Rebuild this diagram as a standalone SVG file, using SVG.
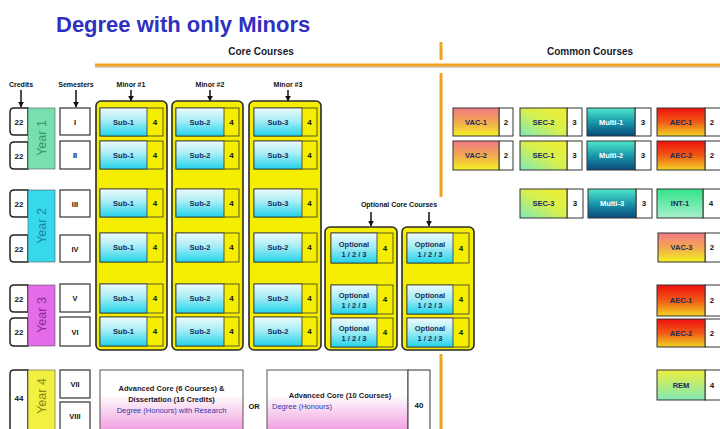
<svg xmlns="http://www.w3.org/2000/svg" width="720" height="429" viewBox="0 0 720 429">
<defs>
<linearGradient id="gSub" x1="0" y1="0" x2="0" y2="1"><stop offset="0" stop-color="#eefbfc"/><stop offset="0.45" stop-color="#a8edf5"/><stop offset="1" stop-color="#22d3ea"/></linearGradient>
<linearGradient id="gVac" x1="0" y1="0" x2="0" y2="1"><stop offset="0" stop-color="#f07a86"/><stop offset="0.5" stop-color="#f4a850"/><stop offset="1" stop-color="#f2f222"/></linearGradient>
<linearGradient id="gSec" x1="1" y1="0" x2="0" y2="1"><stop offset="0" stop-color="#f2f030"/><stop offset="0.5" stop-color="#d4f050"/><stop offset="1" stop-color="#7de8bc"/></linearGradient>
<linearGradient id="gMul" x1="0" y1="0" x2="0" y2="1"><stop offset="0" stop-color="#4ee8c8"/><stop offset="0.5" stop-color="#1a98ac"/><stop offset="1" stop-color="#0a4a7c"/></linearGradient>
<linearGradient id="gAec" x1="0" y1="0" x2="0" y2="1"><stop offset="0" stop-color="#f01010"/><stop offset="0.5" stop-color="#f05a14"/><stop offset="1" stop-color="#f2d424"/></linearGradient>
<linearGradient id="gInt" x1="0" y1="0" x2="0" y2="1"><stop offset="0" stop-color="#30e488"/><stop offset="1" stop-color="#a8f0cc"/></linearGradient>
<linearGradient id="gRem" x1="0" y1="0" x2="0" y2="1"><stop offset="0" stop-color="#eef040"/><stop offset="1" stop-color="#80e8b4"/></linearGradient>
<linearGradient id="gAdv" x1="0" y1="0" x2="0" y2="1"><stop offset="0" stop-color="#ffffff"/><stop offset="0.4" stop-color="#ffffff"/><stop offset="1" stop-color="#f09ade"/></linearGradient>
<marker id="ah" viewBox="0 0 10 10" refX="9" refY="5" markerWidth="4" markerHeight="4" orient="auto"><path d="M0,0 L10,5 L0,10 Z" fill="#111"/></marker>
</defs>
<style>
text{font-family:"Liberation Sans",Arial,sans-serif;}
.hd{font-size:10px;font-weight:bold;fill:#1a1a2e;text-anchor:middle;}
.lb{font-size:7px;font-weight:bold;fill:#111;text-anchor:middle;}
.cell{font-size:7.5px;font-weight:bold;fill:#1a2a5a;text-anchor:middle;dominant-baseline:central;}
.wcell{font-size:7.5px;font-weight:bold;fill:#ffffff;text-anchor:middle;dominant-baseline:central;}
.num{font-size:8px;font-weight:bold;fill:#111;text-anchor:middle;dominant-baseline:central;}
.sem{font-size:7.5px;font-weight:bold;fill:#111;text-anchor:middle;dominant-baseline:central;}
.yr{font-size:12.5px;text-anchor:middle;dominant-baseline:central;}
.outer{fill:#f6ee00;stroke:#2a2a2a;stroke-width:1.6;}
.sub{fill:url(#gSub);stroke:#333;stroke-width:0.8;}
.cy{fill:#f6ee00;stroke:#333;stroke-width:0.8;}
.cw{fill:#ffffff;stroke:#333;stroke-width:1;}
.box{fill:#ffffff;stroke:#333;stroke-width:1.2;}
.cr{fill:#ffffff;stroke:#222;stroke-width:1.5;}
.arr{stroke:#111;stroke-width:1.5;fill:none;marker-end:url(#ah);}
.or{stroke:#f4a21e;stroke-width:3;fill:none;}
.adv{font-size:7.5px;font-weight:bold;fill:#1a1a2e;text-anchor:middle;}
.blu{font-size:7.5px;fill:#2a3aa8;}
</style>
<rect width="720" height="429" fill="#ffffff"/>
<text x="56" y="32" font-size="22" font-weight="bold" fill="#3030c0">Degree with only Minors</text>
<g id="dividers">
<line x1="95" y1="67" x2="720" y2="67" stroke="#9aa4b4" stroke-width="1"/>
<line class="or" x1="95" y1="65" x2="720" y2="65"/>
<line class="or" x1="441" y1="42" x2="441" y2="60"/>
<line class="or" x1="441" y1="73" x2="441" y2="197"/>
<line class="or" x1="441" y1="354" x2="441" y2="429"/>
</g>
<text class="hd" x="261" y="55">Core Courses</text>
<text class="hd" x="590" y="55">Common Courses</text>
<g id="labels">
<text class="lb" x="21" y="87">Credits</text>
<text class="lb" x="76" y="87">Semesters</text>
<text class="lb" x="131" y="87">Minor #1</text>
<text class="lb" x="210" y="87">Minor #2</text>
<text class="lb" x="288" y="87">Minor #3</text>
<text class="lb" x="399" y="207">Optional Core Courses</text>
</g>
<g id="connectors">
<line class="arr" x1="21" y1="90" x2="21" y2="107"/>
<line class="arr" x1="76" y1="90" x2="76" y2="107"/>
<line class="arr" x1="131" y1="90" x2="131" y2="101"/>
<line class="arr" x1="210" y1="90" x2="210" y2="101"/>
<line class="arr" x1="288" y1="90" x2="288" y2="101"/>
<line class="arr" x1="371" y1="212" x2="371" y2="226"/>
<line class="arr" x1="429" y1="212" x2="429" y2="226"/>
</g>
<g id="credits">
<path class="cr" d="M28,108 H14 Q10,108 10,112 V131 Q10,135 14,135 H28 Z"/><text class="num" x="19" y="122">22</text>
<path class="cr" d="M28,142 H14 Q10,142 10,146 V165 Q10,169 14,169 H28 Z"/><text class="num" x="19" y="156">22</text>
<path class="cr" d="M28,190 H14 Q10,190 10,194 V213 Q10,217 14,217 H28 Z"/><text class="num" x="19" y="204">22</text>
<path class="cr" d="M28,235 H14 Q10,235 10,239 V258 Q10,262 14,262 H28 Z"/><text class="num" x="19" y="249">22</text>
<path class="cr" d="M28,285 H14 Q10,285 10,289 V308 Q10,312 14,312 H28 Z"/><text class="num" x="19" y="299">22</text>
<path class="cr" d="M28,318 H14 Q10,318 10,322 V342 Q10,346 14,346 H28 Z"/><text class="num" x="19" y="332">22</text>
<path class="cr" d="M28,370 H14 Q10,370 10,374 V432 H28 Z"/><text class="num" x="19" y="398">44</text>
</g>
<g id="years">
<rect x="28" y="108" width="27" height="61" fill="#78e0ae" stroke="#555" stroke-width="0.6"/>
<text class="yr" fill="#2f9a66" transform="translate(42,138) rotate(-90)">Year 1</text>
<rect x="28" y="190" width="27" height="72" fill="#38d8ec" stroke="#555" stroke-width="0.6"/>
<text class="yr" fill="#1a86a6" transform="translate(42,226) rotate(-90)">Year 2</text>
<rect x="28" y="285" width="27" height="61" fill="#e46ce8" stroke="#555" stroke-width="0.6"/>
<text class="yr" fill="#8a2a96" transform="translate(42,315) rotate(-90)">Year 3</text>
<rect x="28" y="370" width="27" height="62" fill="#f2f040" stroke="#555" stroke-width="0.6"/>
<text class="yr" fill="#8a8a1a" transform="translate(42,396) rotate(-90)">Year 4</text>
</g>
<g id="semesters">
<rect class="box" x="60" y="108" width="30" height="27"/><text class="sem" x="75" y="122">I</text>
<rect class="box" x="60" y="141" width="30" height="28"/><text class="sem" x="75" y="155">II</text>
<rect class="box" x="60" y="190" width="30" height="27"/><text class="sem" x="75" y="204">III</text>
<rect class="box" x="60" y="235" width="30" height="27"/><text class="sem" x="75" y="249">IV</text>
<rect class="box" x="60" y="284" width="30" height="28"/><text class="sem" x="75" y="298">V</text>
<rect class="box" x="60" y="317" width="30" height="29"/><text class="sem" x="75" y="332">VI</text>
<rect class="box" x="60" y="370" width="30" height="28"/><text class="sem" x="75" y="384">VII</text>
<rect class="box" x="60" y="402" width="30" height="30"/><text class="sem" x="75" y="416">VIII</text>
</g>
<g id="minor1">
<rect class="outer" x="96" y="101" width="71" height="249" rx="5"/>
<rect class="cy" x="100" y="108" width="63" height="28"/><rect class="sub" x="100" y="108" width="47" height="28"/><text class="cell" x="123.5" y="122">Sub-1</text><text class="num" x="155" y="122">4</text>
<rect class="cy" x="100" y="141" width="63" height="28"/><rect class="sub" x="100" y="141" width="47" height="28"/><text class="cell" x="123.5" y="155">Sub-1</text><text class="num" x="155" y="155">4</text>
<rect class="cy" x="100" y="189" width="63" height="28"/><rect class="sub" x="100" y="189" width="47" height="28"/><text class="cell" x="123.5" y="203">Sub-1</text><text class="num" x="155" y="203">4</text>
<rect class="cy" x="100" y="233" width="63" height="29"/><rect class="sub" x="100" y="233" width="47" height="29"/><text class="cell" x="123.5" y="247.5">Sub-1</text><text class="num" x="155" y="247.5">4</text>
<rect class="cy" x="100" y="284" width="63" height="29"/><rect class="sub" x="100" y="284" width="47" height="29"/><text class="cell" x="123.5" y="298.5">Sub-1</text><text class="num" x="155" y="298.5">4</text>
<rect class="cy" x="100" y="317" width="63" height="29"/><rect class="sub" x="100" y="317" width="47" height="29"/><text class="cell" x="123.5" y="331.5">Sub-1</text><text class="num" x="155" y="331.5">4</text>
</g>
<g id="minor2">
<rect class="outer" x="172" y="101" width="71" height="249" rx="5"/>
<rect class="cy" x="176" y="108" width="63" height="28"/><rect class="sub" x="176" y="108" width="48" height="28"/><text class="cell" x="200" y="122">Sub-2</text><text class="num" x="231.5" y="122">4</text>
<rect class="cy" x="176" y="141" width="63" height="28"/><rect class="sub" x="176" y="141" width="48" height="28"/><text class="cell" x="200" y="155">Sub-2</text><text class="num" x="231.5" y="155">4</text>
<rect class="cy" x="176" y="189" width="63" height="28"/><rect class="sub" x="176" y="189" width="48" height="28"/><text class="cell" x="200" y="203">Sub-2</text><text class="num" x="231.5" y="203">4</text>
<rect class="cy" x="176" y="233" width="63" height="29"/><rect class="sub" x="176" y="233" width="48" height="29"/><text class="cell" x="200" y="247.5">Sub-2</text><text class="num" x="231.5" y="247.5">4</text>
<rect class="cy" x="176" y="284" width="63" height="29"/><rect class="sub" x="176" y="284" width="48" height="29"/><text class="cell" x="200" y="298.5">Sub-2</text><text class="num" x="231.5" y="298.5">4</text>
<rect class="cy" x="176" y="317" width="63" height="29"/><rect class="sub" x="176" y="317" width="48" height="29"/><text class="cell" x="200" y="331.5">Sub-2</text><text class="num" x="231.5" y="331.5">4</text>
</g>
<g id="minor3">
<rect class="outer" x="249" y="101" width="72" height="249" rx="5"/>
<rect class="cy" x="254" y="108" width="63" height="28"/><rect class="sub" x="254" y="108" width="48" height="28"/><text class="cell" x="278" y="122">Sub-3</text><text class="num" x="309.5" y="122">4</text>
<rect class="cy" x="254" y="141" width="63" height="28"/><rect class="sub" x="254" y="141" width="48" height="28"/><text class="cell" x="278" y="155">Sub-3</text><text class="num" x="309.5" y="155">4</text>
<rect class="cy" x="254" y="189" width="63" height="28"/><rect class="sub" x="254" y="189" width="48" height="28"/><text class="cell" x="278" y="203">Sub-3</text><text class="num" x="309.5" y="203">4</text>
<rect class="cy" x="254" y="233" width="63" height="29"/><rect class="sub" x="254" y="233" width="48" height="29"/><text class="cell" x="278" y="247.5">Sub-2</text><text class="num" x="309.5" y="247.5">4</text>
<rect class="cy" x="254" y="284" width="63" height="29"/><rect class="sub" x="254" y="284" width="48" height="29"/><text class="cell" x="278" y="298.5">Sub-2</text><text class="num" x="309.5" y="298.5">4</text>
<rect class="cy" x="254" y="317" width="63" height="29"/><rect class="sub" x="254" y="317" width="48" height="29"/><text class="cell" x="278" y="331.5">Sub-2</text><text class="num" x="309.5" y="331.5">4</text>
</g>
<g id="optional1">
<rect class="outer" x="325" y="227" width="72" height="123" rx="5"/>
<rect class="cy" x="331" y="233" width="62" height="30"/><rect class="sub" x="331" y="233" width="46" height="30"/><text class="cell" x="354" y="244">Optional</text><text class="cell" x="354" y="254" fill="#1a3a8a">1 / 2 / 3</text><text class="num" x="385" y="248">4</text>
<rect class="cy" x="331" y="285" width="62" height="29"/><rect class="sub" x="331" y="285" width="46" height="29"/><text class="cell" x="354" y="295.5">Optional</text><text class="cell" x="354" y="305.5" fill="#1a3a8a">1 / 2 / 3</text><text class="num" x="385" y="299.5">4</text>
<rect class="cy" x="331" y="318" width="62" height="29"/><rect class="sub" x="331" y="318" width="46" height="29"/><text class="cell" x="354" y="328.5">Optional</text><text class="cell" x="354" y="338.5" fill="#1a3a8a">1 / 2 / 3</text><text class="num" x="385" y="332.5">4</text>
</g>
<g id="optional2">
<rect class="outer" x="402" y="227" width="72" height="123" rx="5"/>
<rect class="cy" x="407" y="233" width="62" height="30"/><rect class="sub" x="407" y="233" width="46" height="30"/><text class="cell" x="430" y="244">Optional</text><text class="cell" x="430" y="254" fill="#1a3a8a">1 / 2 / 3</text><text class="num" x="461" y="248">4</text>
<rect class="cy" x="407" y="285" width="62" height="29"/><rect class="sub" x="407" y="285" width="46" height="29"/><text class="cell" x="430" y="295.5">Optional</text><text class="cell" x="430" y="305.5" fill="#1a3a8a">1 / 2 / 3</text><text class="num" x="461" y="299.5">4</text>
<rect class="cy" x="407" y="318" width="62" height="29"/><rect class="sub" x="407" y="318" width="46" height="29"/><text class="cell" x="430" y="328.5">Optional</text><text class="cell" x="430" y="338.5" fill="#1a3a8a">1 / 2 / 3</text><text class="num" x="461" y="332.5">4</text>
</g>
<g id="common">
<rect class="cw" x="499" y="108" width="14" height="28"/><rect x="453" y="108" width="46" height="28" fill="url(#gVac)" stroke="#333" stroke-width="1"/><text class="cell" x="476" y="122" fill="#1a1a2e">VAC-1</text><text class="num" x="506" y="122">2</text>
<rect class="cw" x="567" y="108" width="15" height="28"/><rect x="520" y="108" width="47" height="28" fill="url(#gSec)" stroke="#333" stroke-width="1"/><text class="cell" x="543.5" y="122">SEC-2</text><text class="num" x="574.5" y="122">3</text>
<rect class="cw" x="635" y="108" width="16" height="28"/><rect x="587" y="108" width="48" height="28" fill="url(#gMul)" stroke="#333" stroke-width="1"/><text class="wcell" x="611" y="122">Multi-1</text><text class="num" x="643" y="122">3</text>
<rect class="cw" x="705" y="108" width="18" height="28"/><rect x="657" y="108" width="48" height="28" fill="url(#gAec)" stroke="#333" stroke-width="1"/><text class="cell" x="681" y="122" fill="#5a1010">AEC-1</text><text class="num" x="712" y="122">2</text>

<rect class="cw" x="499" y="141" width="14" height="29"/><rect x="453" y="141" width="46" height="29" fill="url(#gVac)" stroke="#333" stroke-width="1"/><text class="cell" x="476" y="155.5" fill="#1a1a2e">VAC-2</text><text class="num" x="506" y="155.5">2</text>
<rect class="cw" x="567" y="141" width="15" height="29"/><rect x="520" y="141" width="47" height="29" fill="url(#gSec)" stroke="#333" stroke-width="1"/><text class="cell" x="543.5" y="155.5">SEC-1</text><text class="num" x="574.5" y="155.5">3</text>
<rect class="cw" x="635" y="141" width="16" height="29"/><rect x="587" y="141" width="48" height="29" fill="url(#gMul)" stroke="#333" stroke-width="1"/><text class="wcell" x="611" y="155.5">Multi-2</text><text class="num" x="643" y="155.5">3</text>
<rect class="cw" x="705" y="141" width="18" height="29"/><rect x="657" y="141" width="48" height="29" fill="url(#gAec)" stroke="#333" stroke-width="1"/><text class="cell" x="681" y="155.5" fill="#5a1010">AEC-2</text><text class="num" x="712" y="155.5">2</text>

<rect class="cw" x="567" y="189" width="16" height="29"/><rect x="520" y="189" width="47" height="29" fill="url(#gSec)" stroke="#333" stroke-width="1"/><text class="cell" x="543.5" y="203.5">SEC-3</text><text class="num" x="575" y="203.5">3</text>
<rect class="cw" x="636" y="189" width="16" height="29"/><rect x="588" y="189" width="48" height="29" fill="url(#gMul)" stroke="#333" stroke-width="1"/><text class="wcell" x="612" y="203.5">Multi-3</text><text class="num" x="644" y="203.5">3</text>
<rect class="cw" x="703" y="189" width="20" height="29"/><rect x="657" y="189" width="46" height="29" fill="url(#gInt)" stroke="#333" stroke-width="1"/><text class="cell" x="680" y="203.5">INT-1</text><text class="num" x="711" y="203.5">4</text>

<rect class="cw" x="705" y="233" width="18" height="29"/><rect x="658" y="233" width="47" height="29" fill="url(#gVac)" stroke="#333" stroke-width="1"/><text class="cell" x="681.5" y="247.5" fill="#1a1a2e">VAC-3</text><text class="num" x="712" y="247.5">2</text>

<rect class="cw" x="705" y="285" width="18" height="31"/><rect x="657" y="285" width="48" height="31" fill="url(#gAec)" stroke="#333" stroke-width="1"/><text class="cell" x="681" y="300.5" fill="#5a1010">AEC-1</text><text class="num" x="712" y="300.5">2</text>
<rect class="cw" x="705" y="319" width="18" height="28"/><rect x="657" y="319" width="48" height="28" fill="url(#gAec)" stroke="#333" stroke-width="1"/><text class="cell" x="681" y="333" fill="#5a1010">AEC-2</text><text class="num" x="712" y="333">2</text>

<rect class="cw" x="705" y="370" width="18" height="30"/><rect x="657" y="370" width="48" height="30" fill="url(#gRem)" stroke="#333" stroke-width="1"/><text class="cell" x="681" y="385">REM</text><text class="num" x="712" y="385">4</text>
</g>
<g id="year4">
<rect x="100" y="370" width="143" height="62" fill="url(#gAdv)" stroke="#555" stroke-width="1"/>
<text class="adv" x="171.5" y="391">Advanced Core (6 Courses) &amp;</text>
<text class="adv" x="171.5" y="402">Dissertation (16 Credits)</text>
<text class="blu" x="171.5" y="413" text-anchor="middle">Degree (Honours) with Research</text>
<text x="254" y="409" font-size="7.5" font-weight="bold" fill="#111" text-anchor="middle">OR</text>
<rect x="267" y="370" width="141" height="62" fill="url(#gAdv)" stroke="#555" stroke-width="1"/>
<rect class="cw" x="408" y="370" width="22" height="62"/>
<text class="adv" x="340" y="398">Advanced Core (10 Courses)</text>
<text class="blu" x="272" y="409">Degree (Honours)</text>
<text class="num" x="419" y="405">40</text>
</g>
</svg>
